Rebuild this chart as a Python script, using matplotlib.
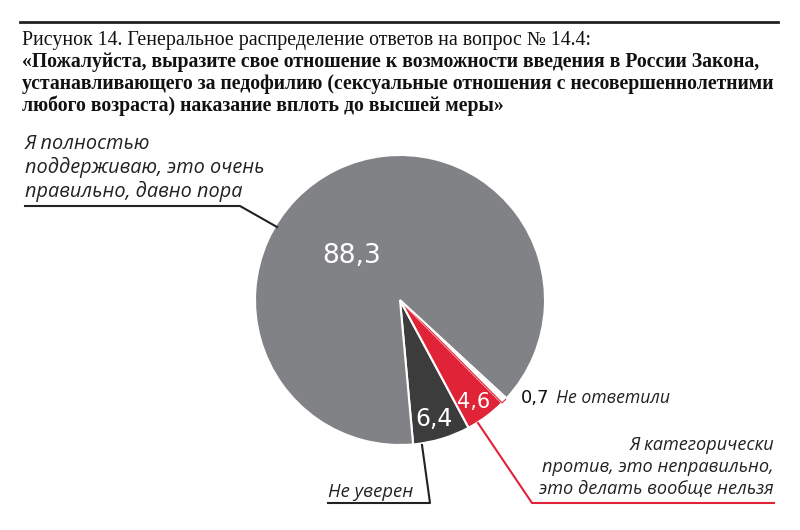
import matplotlib
matplotlib.use("Agg")
import matplotlib.pyplot as plt

# data
values = [6.4, 4.6, 0.7, 88.3]
value_labels = ["6,4", "4,6", "0,7", "88,3"]
colors = ["#3c3c3d", "#e12337", "#ffffff", "#818285"]
title_lines = ["Рисунок 14. Генеральное распределение ответов на вопрос № 14.4:",
               "«Пожалуйста, выразите свое отношение к возможности введения в России Закона,",
               "устанавливающего за педофилию (сексуальные отношения с несовершеннолетними",
               "любого возраста) наказание вплоть до высшей меры»"]
lbl_yes = "Я полностью\nподдерживаю, это очень\nправильно, давно пора"
lbl_unsure = "Не уверен"
lbl_no = "Я категорически\nпротив, это неправильно,\nэто делать вообще нельзя"
lbl_na = "Не ответили"

W, H = 800, 530
def Y(y):
    return H - y

fig = plt.figure(figsize=(8, 5.3), dpi=100)
ax = fig.add_axes([0, 0, 1, 1])

wedges, _ = ax.pie(values, colors=colors, startangle=-84.8, counterclock=True,
                   center=(400, Y(300)), radius=145,
                   wedgeprops=dict(edgecolor="white", linewidth=1.5))
wedges[2].set_edgecolor("#e12337")
wedges[2].set_linewidth(0.8)

ax.set_xlim(0, W)
ax.set_ylim(0, H)
ax.set_aspect("equal")
ax.axis("off")

# header
ax.plot([20, 778], [Y(22), Y(22)], color="#222222", lw=2)
serif = "Liberation Serif"
for i, line in enumerate(title_lines):
    if i == 0:
        ax.text(22, Y(40), line, fontsize=14.3, family=serif, va="center", color="#111111")
    else:
        ax.text(22, Y(40 + 22 * i), line, fontsize=14.2, family=serif, weight="bold",
                va="center", color="#111111")

# values
ax.text(352, Y(256), value_labels[3], color="white", fontsize=19, ha="center", va="center")
ax.text(434, Y(419), value_labels[0], color="white", fontsize=17, ha="center", va="center")
ax.text(474, Y(402), value_labels[1], color="white", fontsize=15, ha="center", va="center")
ax.text(521, Y(398), value_labels[2], color="#111111", fontsize=13, ha="left", va="center")

ital = dict(family=["Open Sans", "DejaVu Sans"], style="italic", color="#222222")
ax.text(556, Y(398), lbl_na, ha="left", va="center", fontsize=12.7, **ital)

# callouts
ax.text(25, Y(168), lbl_yes, ha="left", va="center", linespacing=1.2, fontsize=14.3, **ital)
ax.plot([25, 240, 277], [Y(206), Y(206), Y(227)], color="#222222", lw=1.5)

ax.text(328, Y(492), lbl_unsure, ha="left", va="center", fontsize=13.3, **ital)
ax.plot([328, 430, 422], [Y(503), Y(503), Y(445)], color="#222222", lw=1.5)

ax.text(774, Y(467), lbl_no, ha="right", va="center", linespacing=1.3, fontsize=13.1,
        multialignment="right", **ital)
ax.plot([774, 532, 478], [Y(503), Y(503), Y(423)], color="#e12337", lw=1.5)

fig.savefig("out.png", dpi=100)
